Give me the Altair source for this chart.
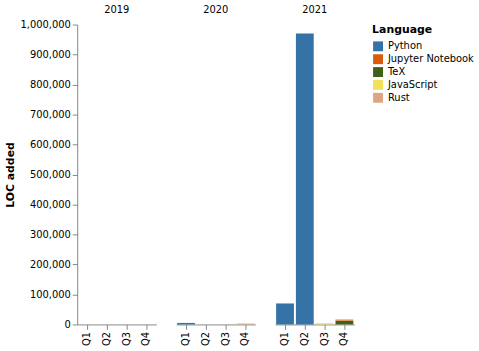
import altair as alt
import pandas as pd

years = ["2019", "2020", "2020", "2021", "2021", "2021", "2021", "2021", "2021", "2021", "2021", "2021"]
quarters = ["Q1", "Q1", "Q4", "Q1", "Q1", "Q2", "Q2", "Q3", "Q3", "Q4", "Q4", "Q4"]
languages = ["Python", "Python", "Rust", "Python", "Rust", "Python", "Rust",
             "JavaScript", "Rust", "TeX", "Jupyter Notebook", "Rust"]
loc = [0, 5000, 3000, 70000, 1000, 970000, 1500, 1500, 1500, 12000, 2000, 3000]
stack_order = [0, 0, 4, 0, 4, 0, 4, 3, 4, 1, 2, 4]

lang_domain = ["Python", "Jupyter Notebook", "TeX", "JavaScript", "Rust"]
lang_colors = ["#3572A5", "#DA5B0B", "#3D6117", "#F1E05A", "#DEA584"]
quarter_list = ["Q1", "Q2", "Q3", "Q4"]

df = pd.DataFrame({"year": years, "quarter": quarters, "Language": languages,
                   "loc": loc, "ord": stack_order})

chart = alt.Chart(df).mark_bar().encode(
    x=alt.X("quarter:N", title=None, scale=alt.Scale(domain=quarter_list)),
    y=alt.Y("sum(loc):Q", title="LOC added", scale=alt.Scale(domain=[0, 1000000]),
            axis=alt.Axis(grid=False)),
    color=alt.Color("Language:N", scale=alt.Scale(domain=lang_domain, range=lang_colors)),
    order=alt.Order("ord:Q"),
).properties(width=80, height=303).facet(
    column=alt.Column("year:N", title=None, header=alt.Header(labelFontSize=10))
).properties(
    padding={"left": 5, "right": 5, "top": 3, "bottom": 0}
).configure(font="DejaVu Sans").configure_view(stroke=None).configure_axis(grid=False)

chart.save("out.html", embed_options={"renderer": "svg", "actions": False})
